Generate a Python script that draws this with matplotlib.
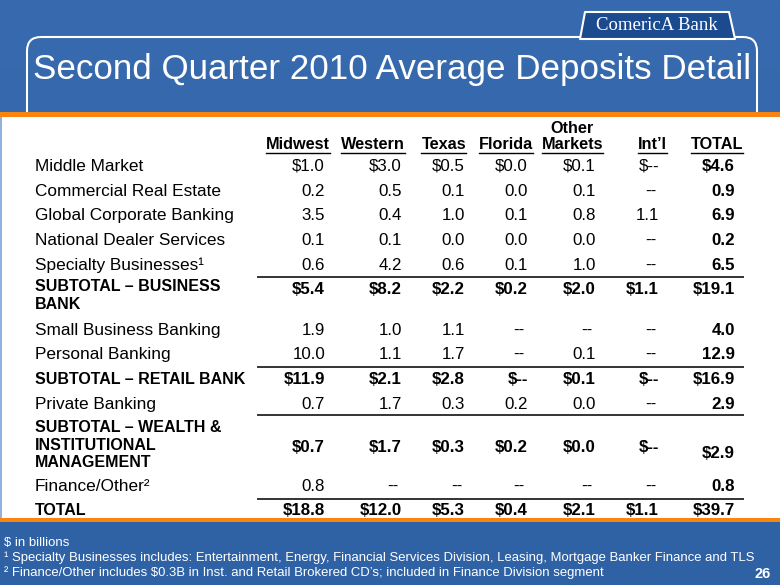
import numpy as np
import matplotlib
matplotlib.use("Agg")
import matplotlib.pyplot as plt
from matplotlib.patches import Rectangle, FancyBboxPatch, Polygon

plt.rcParams['font.family'] = ['Liberation Sans', 'DejaVu Sans']

# --- data ($ in billions), None means "--"
headers = ['Midwest', 'Western', 'Texas', 'Florida', 'Other\nMarkets', 'Int\u2019l', 'TOTAL']
row_labels = ['Middle Market', 'Commercial Real Estate', 'Global Corporate Banking',
              'National Dealer Services', 'Specialty Businesses\u00b9',
              'SUBTOTAL \u2013 BUSINESS\nBANK', 'Small Business Banking', 'Personal Banking',
              'SUBTOTAL \u2013 RETAIL BANK', 'Private Banking',
              'SUBTOTAL \u2013 WEALTH &\nINSTITUTIONAL\nMANAGEMENT', 'Finance/Other\u00b2', 'TOTAL']
midwest = [1.0, 0.2, 3.5, 0.1, 0.6, 5.4, 1.9, 10.0, 11.9, 0.7, 0.7, 0.8, 18.8]
western = [3.0, 0.5, 0.4, 0.1, 4.2, 8.2, 1.0, 1.1, 2.1, 1.7, 1.7, None, 12.0]
texas = [0.5, 0.1, 1.0, 0.0, 0.6, 2.2, 1.1, 1.7, 2.8, 0.3, 0.3, None, 5.3]
florida = [0.0, 0.0, 0.1, 0.0, 0.1, 0.2, None, None, None, 0.2, 0.2, None, 0.4]
other_markets = [0.1, 0.1, 0.8, 0.0, 1.0, 2.0, None, 0.1, 0.1, 0.0, 0.0, None, 2.1]
intl = [None, None, 1.1, None, None, 1.1, None, None, None, None, None, None, 1.1]
total = [4.6, 0.9, 6.9, 0.2, 6.5, 19.1, 4.0, 12.9, 16.9, 2.9, 2.9, 0.8, 39.7]
bold_rows = [5, 8, 10, 12]
dollar_rows = [0, 5, 8, 10, 12]

footnotes = ['$ in billions',
             '\u00b9 Specialty Businesses includes: Entertainment, Energy, Financial Services Division, '
             'Leasing, Mortgage Banker Finance and TLS',
             '\u00b2 Finance/Other includes $0.3B in Inst. and Retail Brokered CD\u2019s; '
             'included in Finance Division segment']

# --- layout (pixels)
col_right = [325, 402, 465, 528, 596, 659, 735]
hdr_right = [330, 405, 466, 533, 603, 667, 743]
row_y = [165, 190, 214, 239, 264, 288, 329, 353, 378, 403, 446, 485, 509]
rule_y = [277, 367, 415, 499]

fig = plt.figure(figsize=(7.8, 5.85), dpi=100)
ax = fig.add_axes([0, 0, 1, 1])
ax.set_xlim(0, 780)
ax.set_ylim(585, 0)
ax.axis('off')

# background
grad = np.linspace(0, 1, 256).reshape(-1, 1)
cmap = matplotlib.colors.LinearSegmentedColormap.from_list('bg', ['#376AAE', '#2F61A5'])
ax.imshow(grad, cmap=cmap, extent=[0, 780, 585, 0], aspect='auto', zorder=0)

# rounded frame (hidden below the white panel) and logo
ax.add_patch(FancyBboxPatch((27, 37), 730, 250, boxstyle='round,pad=0,rounding_size=14',
                            fc='none', ec='white', lw=1.5, zorder=1))
ax.add_patch(Polygon([(580, 39), (585, 12), (729, 12), (735, 39)], closed=True,
                     fc='#1B4B8E', ec='white', lw=1.5, joinstyle='round', zorder=2))
ax.text(657, 26, 'ComericA Bank', color='white', fontsize=13.5, family='Liberation Serif',
        ha='center', va='center', zorder=3)

ax.text(33, 70, 'Second Quarter 2010 Average Deposits Detail', color='white',
        fontsize=25.2, ha='left', va='center', zorder=3)

# white panel with orange borders
ax.add_patch(Rectangle((0, 112), 780, 4.5, fc='#F7850F', ec='none', zorder=4))
ax.add_patch(Rectangle((0, 116.5), 780, 401, fc='white', ec='none', zorder=4))
ax.add_patch(Rectangle((0, 116.5), 2, 401, fc='#8FB2DF', ec='none', zorder=5))
ax.add_patch(Rectangle((0, 517.5), 780, 4, fc='#F7850F', ec='none', zorder=4))

# headers
hdr_texts = []
for h, xr in zip(headers, hdr_right):
    t = ax.text(xr, 152, h, fontsize=11.7, fontweight='bold', ha='right', va='bottom',
                multialignment='center', linespacing=1.1, zorder=6)
    hdr_texts.append(t)
fig.canvas.draw()
inv = ax.transData.inverted()
for t in hdr_texts:
    bb = t.get_window_extent()
    (x0, y0), (x1, y1) = inv.transform([(bb.x0, bb.y0), (bb.x1, bb.y1)])
    ax.plot([x0, x1], [y0 + 0.5, y0 + 0.5], color='black', lw=1, zorder=6)

# rows
columns = [midwest, western, texas, florida, other_markets, intl, total]
for i, (lab, y) in enumerate(zip(row_labels, row_y)):
    bold = i in bold_rows
    if i == 5:
        ax.text(35, y - 9, lab, fontsize=11.5, fontweight='bold', ha='left', va='top',
                linespacing=1.22, zorder=6)
    elif i == 10:
        ax.text(35, y - 1, lab, fontsize=11.5, fontweight='bold', ha='left', va='center',
                linespacing=1.22, zorder=6)
    else:
        ax.text(35, y + 6, lab, fontsize=11.5 if bold else 12.4,
                fontweight='bold' if bold else 'normal', ha='left', va='baseline', zorder=6)
    for j, (col, xr) in enumerate(zip(columns, col_right)):
        v = col[i]
        xr_use = xr
        if v is None:
            s = '$--' if i in dollar_rows else '--'
            if i not in dollar_rows:
                xr_use = xr - 3
        else:
            s = ('$' if i in dollar_rows else '') + f'{v:.1f}'
        yy = y + 6
        if i == 10 and j == 6:
            yy += 6
        ax.text(xr_use, yy, s.replace('$', r'\$'), fontsize=12.2,
                fontweight='bold' if (bold or j == 6) else 'normal',
                ha='right', va='baseline', zorder=6)

for ry in rule_y:
    ax.plot([258, 743], [ry, ry], color='#333333', lw=1.4, zorder=6)

# footnotes
for fn, fy in zip(footnotes, [543, 558, 573]):
    ax.text(4, fy, fn.replace('$', r'\$'), color='white', fontsize=9.45,
            ha='left', va='center', zorder=6)
ax.text(771, 574, '26', color='white', fontsize=10.5, fontweight='bold',
        ha='right', va='center', zorder=6)

fig.savefig('out.png', dpi=100)
